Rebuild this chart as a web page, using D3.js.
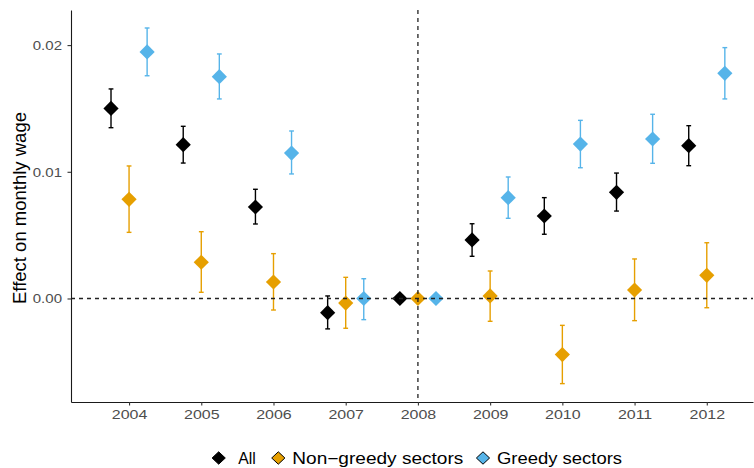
<!DOCTYPE html>
<html>
<head>
<meta charset="utf-8">
<script src="https://cdn.jsdelivr.net/npm/d3@7"></script>
<style>
  body { margin: 0; background: #fff; }
  text { font-family: "Liberation Sans", Arial, sans-serif; }
</style>
</head>
<body>
<div id="graf"></div>
<script>
// datos
const years = [2004, 2005, 2006, 2007, 2008, 2009, 2010, 2011, 2012]
const allEst = [0.0150, 0.01214, 0.00722, -0.00112, 0, 0.00462, 0.00651, 0.00838, 0.01206]
const allLo  = [0.01348, 0.01069, 0.00588, -0.0024, null, 0.00333, 0.00507, 0.0069, 0.01048]
const allHi  = [0.01654, 0.01359, 0.00862, 0.0002, null, 0.0059, 0.00796, 0.0099, 0.01364]
const nonEst = [0.00783, 0.00286, 0.0013, -0.00036, 0, 0.0002, -0.00443, 0.00067, 0.00183]
const nonLo  = [0.00522, 0.00049, -0.00091, -0.00235, null, -0.0018, -0.00672, -0.00175, -0.00073]
const nonHi  = [0.01046, 0.00527, 0.00354, 0.00167, null, 0.00217, -0.00212, 0.00312, 0.0044]
const greEst = [0.01946, 0.01751, 0.01148, 0.0, 0, 0.00796, 0.01219, 0.01259, 0.01777]
const greLo  = [0.01758, 0.01575, 0.00983, -0.00167, null, 0.00633, 0.01032, 0.01067, 0.01575]
const greHi  = [0.02135, 0.0193, 0.01322, 0.00156, null, 0.00959, 0.01406, 0.01454, 0.0198]
const yTicks = [0.00, 0.01, 0.02]
const seriesNames = ["All", "Non\u2212greedy sectors", "Greedy sectors"]
const seriesColors = ["#000000", "#E69F00", "#56B4E9"]
const dodge = [-0.25, 0, 0.25]

const anchoTotal = 754
const altoTotal = 468
const margins = { top: 10, right: 1, bottom: 66, left: 71 }
const ancho = anchoTotal - margins.left - margins.right
const alto = altoTotal - margins.top - margins.bottom

const svg = d3.select("#graf").append("svg").attr("width", anchoTotal).attr("height", altoTotal)
const g = svg.append("g").attr("transform", `translate(${margins.left}, ${margins.top})`)

const x = d3.scaleLinear().domain([2003.196, 2012.64]).range([0, ancho])
const y = d3.scaleLinear().domain([-0.00817, 0.02277]).range([alto, 0])

// el texto del original sale algo estirado en horizontal
const estirar = (sel, factor) => {
  sel.each(function () {
    const largo = this.getComputedTextLength()
    d3.select(this).attr("textLength", largo * factor).attr("lengthAdjust", "spacingAndGlyphs")
  })
}

const series = [
  { est: allEst, lo: allLo, hi: allHi },
  { est: nonEst, lo: nonLo, hi: nonHi },
  { est: greEst, lo: greLo, hi: greHi }
]

// puntos y barras de error
series.forEach((s, i) => {
  const datos = years.map((yr, j) => ({ yr: yr, est: s.est[j], lo: s.lo[j], hi: s.hi[j] }))
  const color = seriesColors[i]
  const capa = g.append("g")
  const conError = datos.filter(d => d.lo !== null)
  capa.selectAll(".err").data(conError).enter().append("line")
    .attr("x1", d => x(d.yr + dodge[i])).attr("x2", d => x(d.yr + dodge[i]))
    .attr("y1", d => y(d.lo)).attr("y2", d => y(d.hi))
    .attr("stroke", color).attr("stroke-width", 1.4)
  ;["lo", "hi"].forEach(k => {
    capa.selectAll(".cap" + k).data(conError).enter().append("line")
      .attr("x1", d => x(d.yr + dodge[i]) - 2.4).attr("x2", d => x(d.yr + dodge[i]) + 2.4)
      .attr("y1", d => y(d[k])).attr("y2", d => y(d[k]))
      .attr("stroke", color).attr("stroke-width", 1.4)
  })
  capa.selectAll("path").data(datos).enter().append("path")
    .attr("d", "M0,-7.6L7.6,0L0,7.6L-7.6,0Z")
    .attr("transform", d => `translate(${x(d.yr + dodge[i])}, ${y(d.est)})`)
    .attr("fill", color)
})

// lineas de referencia
g.append("line").attr("x1", 0).attr("x2", ancho).attr("y1", y(0)).attr("y2", y(0))
  .attr("stroke", "#222").attr("stroke-width", 1.3).attr("stroke-dasharray", "4,4")
g.append("line").attr("x1", x(2008)).attr("x2", x(2008)).attr("y1", 0).attr("y2", alto)
  .attr("stroke", "#222").attr("stroke-width", 1.3).attr("stroke-dasharray", "4,4")

// ejes
const ejeX = g.append("g").attr("transform", `translate(0, ${alto})`)
  .call(d3.axisBottom(x).tickValues(years).tickFormat(d3.format("d")).tickSizeInner(3.5).tickSizeOuter(0).tickPadding(4.5))
const ejeY = g.append("g")
  .call(d3.axisLeft(y).tickValues(yTicks).tickFormat(d3.format(".2f")).tickSizeInner(3.5).tickSizeOuter(0).tickPadding(5.5))
;[ejeX, ejeY].forEach(e => {
  e.select(".domain").attr("stroke", "#1a1a1a").attr("stroke-width", 1.1)
  e.selectAll(".tick line").attr("stroke", "#333").attr("stroke-width", 1.1)
  e.selectAll(".tick text").attr("fill", "#4D4D4D").style("font-size", "13.3px")
    .style("font-family", '"Liberation Sans", Arial, sans-serif')
})
estirar(ejeX.selectAll(".tick text"), 1.2)
estirar(ejeY.selectAll(".tick text"), 1.13)

svg.append("text")
  .attr("transform", `translate(26, ${margins.top + alto / 2 + 2}) rotate(-90)`)
  .attr("text-anchor", "middle").style("font-size", "17.5px").attr("fill", "#000")
  .attr("textLength", 192).attr("lengthAdjust", "spacingAndGlyphs")
  .text("Effect on monthly wage")

// leyenda
const leyX = [218.7, 278.3, 483]
const leyLargo = [17.5, 171, 125]
const leyenda = svg.append("g").attr("transform", "translate(0, 458)")
seriesNames.forEach((n, i) => {
  leyenda.append("path").attr("d", "M0,-6.2L6.6,0L0,6.2L-6.6,0Z")
    .attr("transform", `translate(${leyX[i]}, 0)`)
    .attr("fill", seriesColors[i]).attr("stroke", "#000").attr("stroke-width", 1)
  leyenda.append("text").attr("x", leyX[i] + (i === 0 ? 19.6 : 14)).attr("y", 5.5)
    .style("font-size", "16px").attr("fill", "#000")
    .attr("textLength", leyLargo[i]).attr("lengthAdjust", "spacingAndGlyphs")
    .text(n)
})
</script>
</body>
</html>
